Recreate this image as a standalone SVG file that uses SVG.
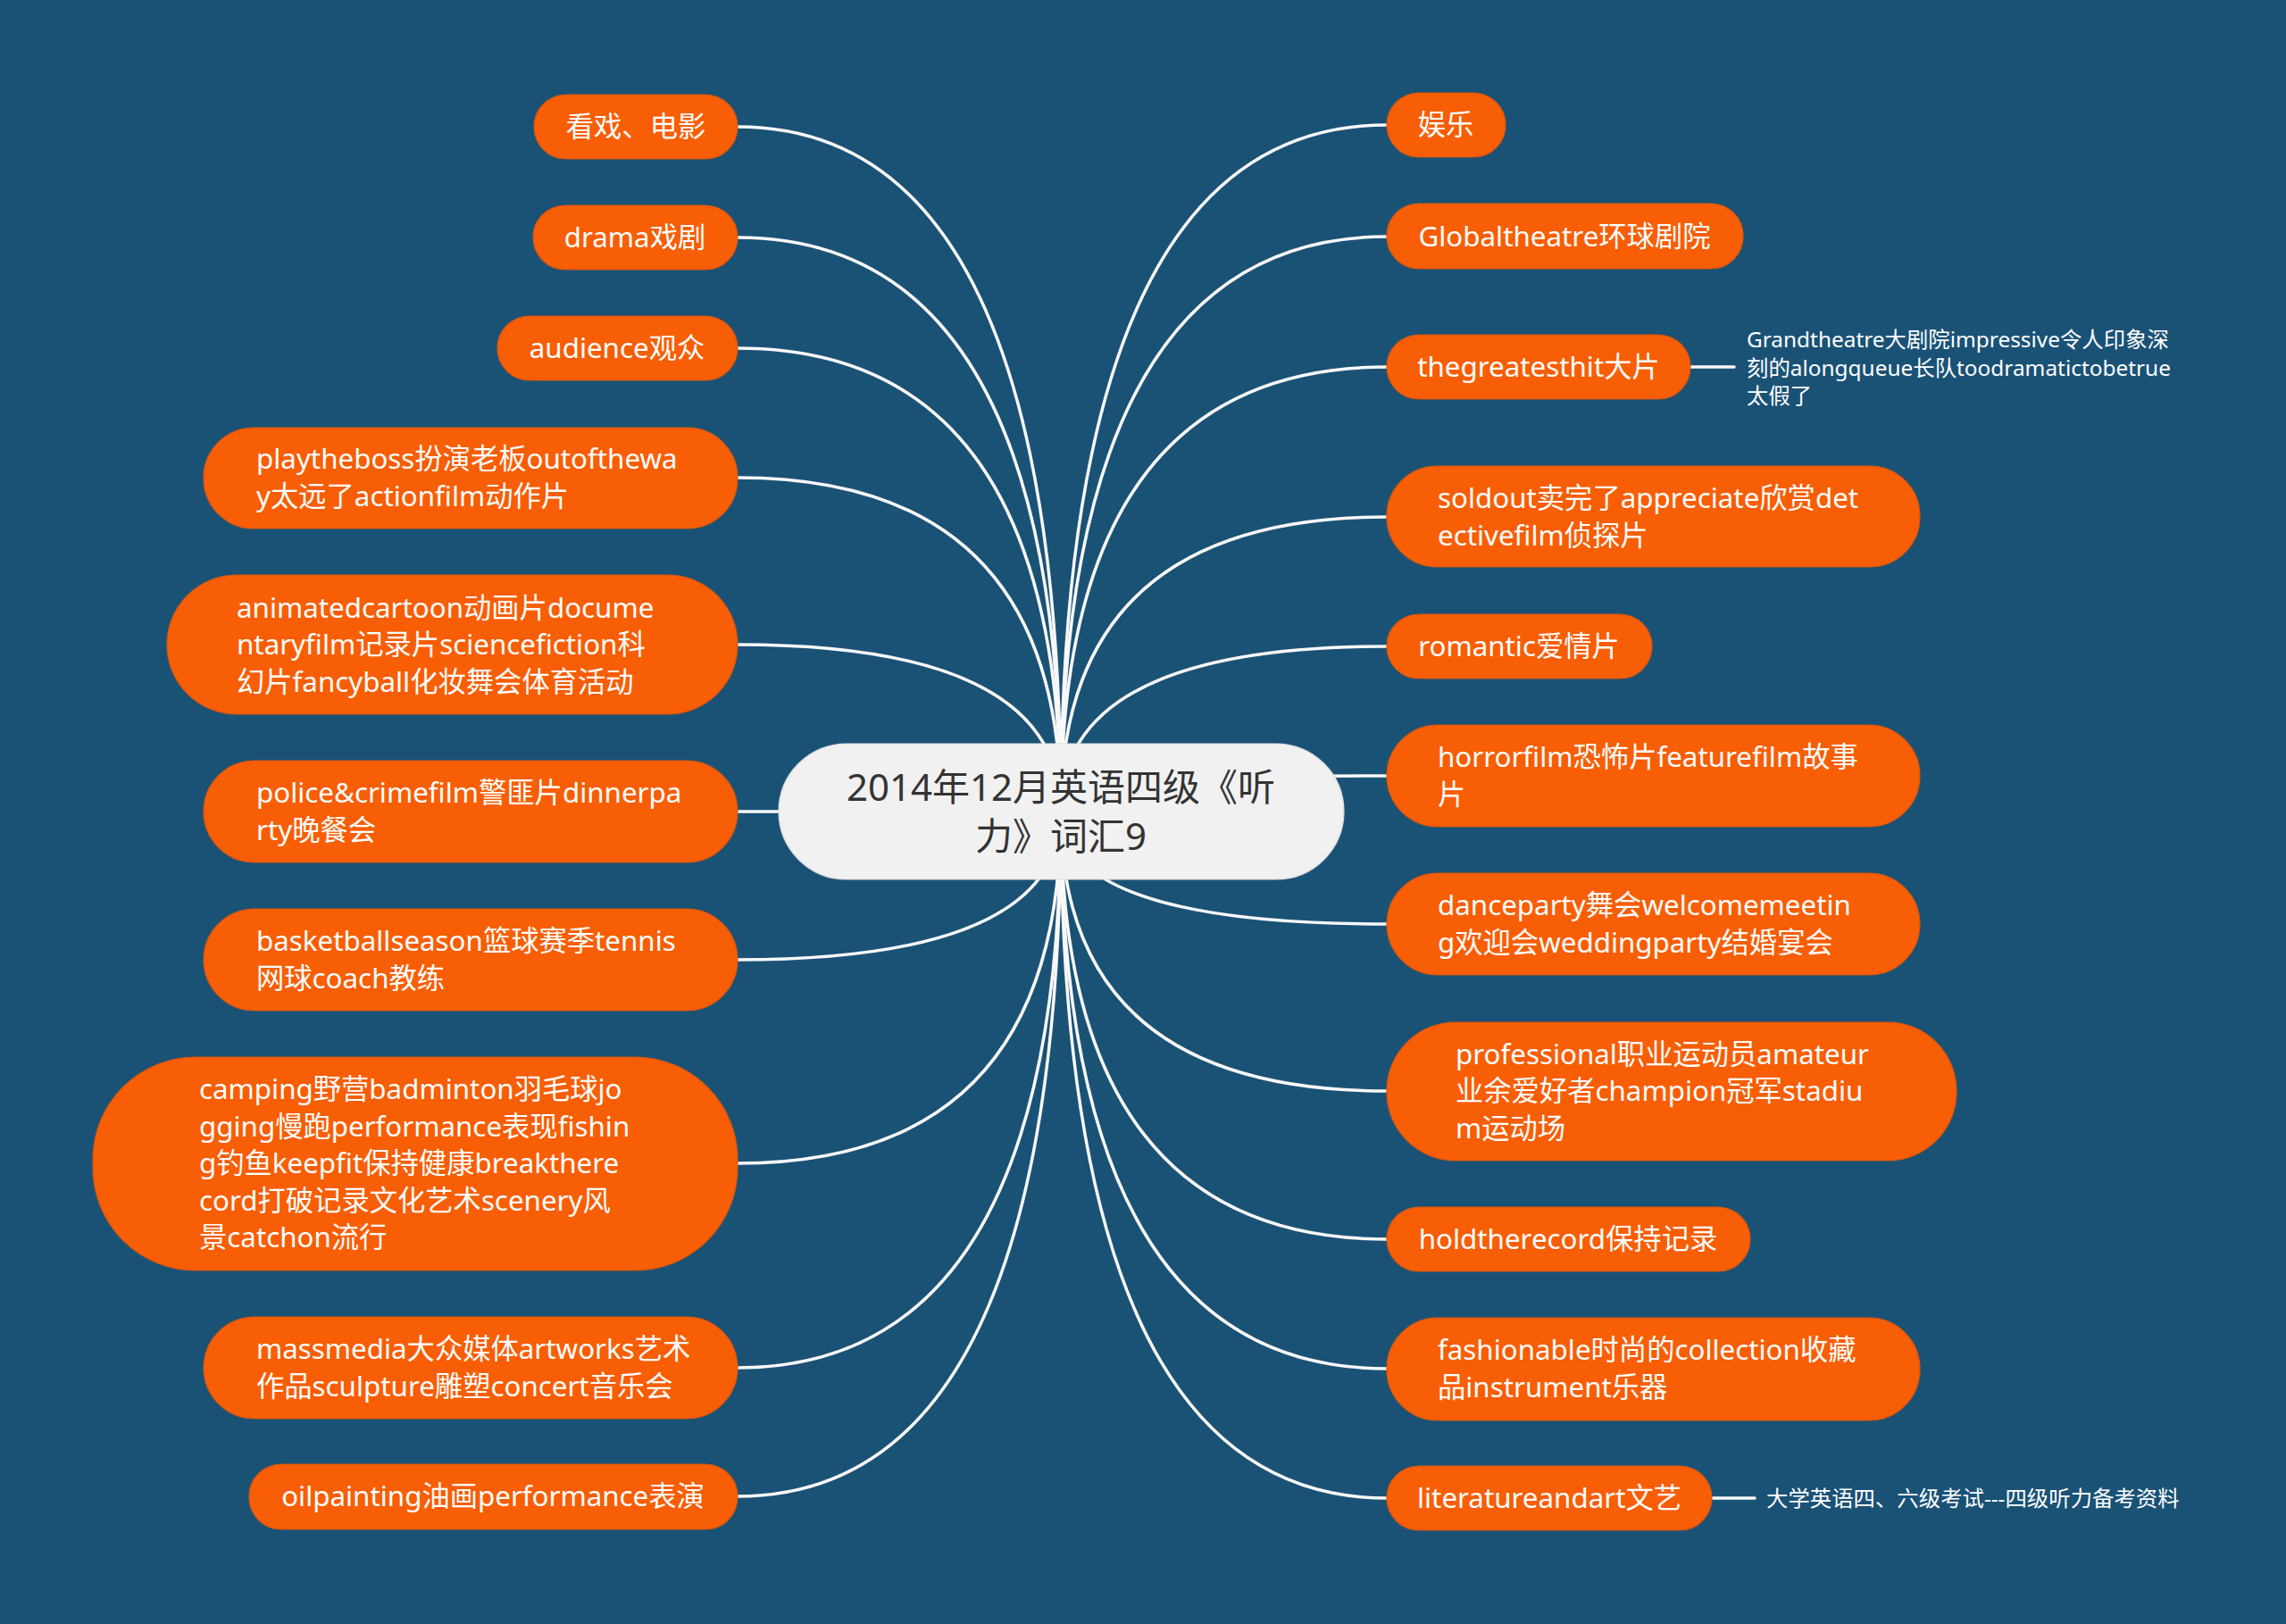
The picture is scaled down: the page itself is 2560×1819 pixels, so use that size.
<svg xmlns="http://www.w3.org/2000/svg" width="2560" height="1819" viewBox="0 0 2560 1819">
<style>
.bg{fill:#1a5276}
.node{fill:#f85e06;stroke:#d8560c;stroke-width:1.2}
.root{fill:#f1f1f1;stroke:#dcdcdc;stroke-width:1.2}
.t{font-family:'Noto Sans','Noto Sans CJK SC',sans-serif;font-size:31.3px;fill:#ffffff}
.c{text-anchor:middle}
.rt{font-family:'Noto Sans','Noto Sans CJK SC',sans-serif;font-size:42px;fill:#333333;text-anchor:middle}
.s{font-family:'Noto Sans','Noto Sans CJK SC',sans-serif;font-size:24.4px;fill:#ffffff}
.ln{fill:none;stroke:#f8f8f8;stroke-width:3.5;stroke-linecap:round}
</style>
<rect class="bg" x="0" y="0" width="2560" height="1819"/>
<g id="connectors">
<path class="ln" d="M826 142 Q1188 142 1188 909"/>
<path class="ln" d="M826 266 Q1188 266 1188 909"/>
<path class="ln" d="M826 390 Q1188 390 1188 909"/>
<path class="ln" d="M826 535 Q1188 535 1188 909"/>
<path class="ln" d="M826 722 Q1188 722 1188 909"/>
<path class="ln" d="M826 909 L1188 909"/>
<path class="ln" d="M826 1075 Q1188 1075 1188 909"/>
<path class="ln" d="M826 1303 Q1188 1303 1188 909"/>
<path class="ln" d="M826 1532 Q1188 1532 1188 909"/>
<path class="ln" d="M826 1676 Q1188 1676 1188 909"/>
<path class="ln" d="M1553 140 Q1188 140 1188 909"/>
<path class="ln" d="M1553 265 Q1188 265 1188 909"/>
<path class="ln" d="M1553 411 Q1188 411 1188 909"/>
<path class="ln" d="M1553 579 Q1188 579 1188 909"/>
<path class="ln" d="M1553 724 Q1188 724 1188 909"/>
<path class="ln" d="M1553 869 Q1188 869 1188 909"/>
<path class="ln" d="M1553 1035 Q1188 1035 1188 909"/>
<path class="ln" d="M1553 1222 Q1188 1222 1188 909"/>
<path class="ln" d="M1553 1388 Q1188 1388 1188 909"/>
<path class="ln" d="M1553 1533 Q1188 1533 1188 909"/>
<path class="ln" d="M1553 1678 Q1188 1678 1188 909"/>
<path class="ln" d="M1893 411 L1942 411"/>
<path class="ln" d="M1917 1678 L1965 1678"/>
</g>
<g id="root">
<rect class="root" x="872" y="833" width="633" height="152" rx="76"/>
<text class="rt" x="1188" y="897">2014年12月英语四级《听</text>
<text class="rt" x="1188" y="952">力》词汇9</text>
</g>
<g id="n-l1"><rect class="node" x="598" y="106" width="228" height="72" rx="36"/><text class="t c" x="712" y="153">看戏、电影</text></g>
<g id="n-l2"><rect class="node" x="597" y="230" width="229" height="72" rx="36"/><text class="t c" x="711" y="277">drama戏剧</text></g>
<g id="n-l3"><rect class="node" x="557" y="354" width="269" height="72" rx="36"/><text class="t c" x="691" y="401">audience观众</text></g>
<g id="n-l4"><rect class="node" x="228" y="479" width="598" height="113" rx="56"/><text class="t" x="287" y="525">playtheboss扮演老板outofthewa</text><text class="t" x="287" y="567">y太远了actionfilm动作片</text></g>
<g id="n-l5"><rect class="node" x="187" y="644" width="639" height="156" rx="78"/><text class="t" x="265" y="692">animatedcartoon动画片docume</text><text class="t" x="265" y="733">ntaryfilm记录片sciencefiction科</text><text class="t" x="265" y="775">幻片fancyball化妆舞会体育活动</text></g>
<g id="n-l6"><rect class="node" x="228" y="852" width="598" height="114" rx="57"/><text class="t" x="287" y="899">police&amp;crimefilm警匪片dinnerpa</text><text class="t" x="287" y="941">rty晚餐会</text></g>
<g id="n-l7"><rect class="node" x="228" y="1018" width="598" height="114" rx="57"/><text class="t" x="287" y="1065">basketballseason篮球赛季tennis</text><text class="t" x="287" y="1107">网球coach教练</text></g>
<g id="n-l8"><rect class="node" x="104" y="1184" width="722" height="239" rx="115"/><text class="t" x="223" y="1231">camping野营badminton羽毛球jo</text><text class="t" x="223" y="1273">gging慢跑performance表现fishin</text><text class="t" x="223" y="1314">g钓鱼keepfit保持健康breakthere</text><text class="t" x="223" y="1356">cord打破记录文化艺术scenery风</text><text class="t" x="223" y="1397">景catchon流行</text></g>
<g id="n-l9"><rect class="node" x="228" y="1475" width="598" height="114" rx="57"/><text class="t" x="287" y="1522">massmedia大众媒体artworks艺术</text><text class="t" x="287" y="1564">作品sculpture雕塑concert音乐会</text></g>
<g id="n-l10"><rect class="node" x="279" y="1640" width="547" height="73" rx="36"/><text class="t c" x="552" y="1687">oilpainting油画performance表演</text></g>
<g id="n-r1"><rect class="node" x="1553" y="104" width="133" height="72" rx="36"/><text class="t c" x="1619" y="151">娱乐</text></g>
<g id="n-r2"><rect class="node" x="1553" y="228" width="399" height="73" rx="36"/><text class="t c" x="1752" y="276">Globaltheatre环球剧院</text></g>
<g id="n-r3"><rect class="node" x="1553" y="375" width="340" height="72" rx="36"/><text class="t c" x="1723" y="422">thegreatesthit大片</text></g>
<g id="n-r3-note"><text class="s" x="1956" y="389">Grandtheatre大剧院impressive令人印象深</text><text class="s" x="1956" y="421">刻的alongqueue长队toodramatictobetrue</text><text class="s" x="1956" y="452">太假了</text></g>
<g id="n-r4"><rect class="node" x="1553" y="522" width="597" height="113" rx="56"/><text class="t" x="1610" y="569">soldout卖完了appreciate欣赏det</text><text class="t" x="1610" y="611">ectivefilm侦探片</text></g>
<g id="n-r5"><rect class="node" x="1553" y="688" width="297" height="72" rx="36"/><text class="t c" x="1701" y="735">romantic爱情片</text></g>
<g id="n-r6"><rect class="node" x="1553" y="812" width="597" height="114" rx="57"/><text class="t" x="1610" y="859">horrorfilm恐怖片featurefilm故事</text><text class="t" x="1610" y="901">片</text></g>
<g id="n-r7"><rect class="node" x="1553" y="978" width="597" height="114" rx="57"/><text class="t" x="1610" y="1025">danceparty舞会welcomemeetin</text><text class="t" x="1610" y="1067">g欢迎会weddingparty结婚宴会</text></g>
<g id="n-r8"><rect class="node" x="1553" y="1145" width="638" height="155" rx="77"/><text class="t" x="1630" y="1192">professional职业运动员amateur</text><text class="t" x="1630" y="1233">业余爱好者champion冠军stadiu</text><text class="t" x="1630" y="1275">m运动场</text></g>
<g id="n-r9"><rect class="node" x="1553" y="1352" width="407" height="72" rx="36"/><text class="t c" x="1756" y="1399">holdtherecord保持记录</text></g>
<g id="n-r10"><rect class="node" x="1553" y="1476" width="597" height="115" rx="57"/><text class="t" x="1610" y="1523">fashionable时尚的collection收藏</text><text class="t" x="1610" y="1565">品instrument乐器</text></g>
<g id="n-r11"><rect class="node" x="1553" y="1642" width="364" height="72" rx="36"/><text class="t c" x="1735" y="1689">literatureandart文艺</text></g>
<g id="n-r11-note"><text class="s" x="1978" y="1687">大学英语四、六级考试---四级听力备考资料</text></g>
</svg>
